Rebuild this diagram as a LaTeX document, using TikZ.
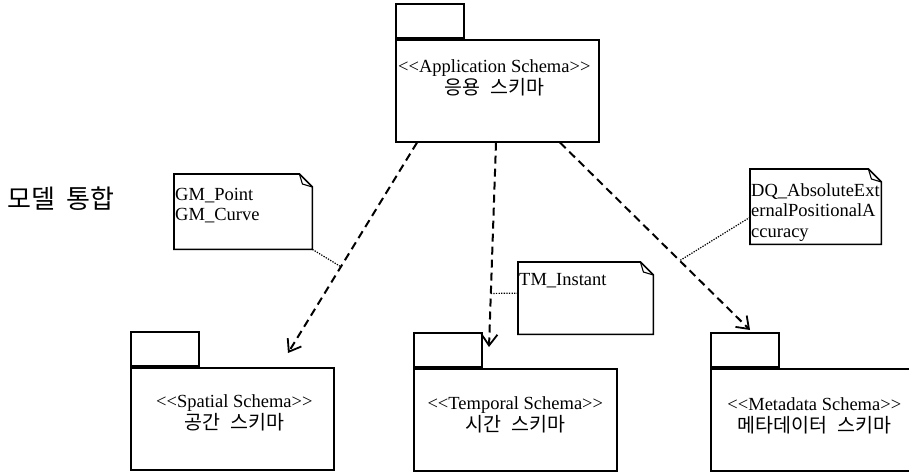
\documentclass[tikz,border=0pt]{standalone}
\usepackage{fontspec}
\setmainfont{Liberation Serif}
\newfontfamily\krfont{Noto Sans CJK KR}
\usetikzlibrary{arrows.meta,calc}
\newcommand\dognote[1]{%
  \draw[noteline] (#1.north west) -- ([xshift=-13pt]#1.north east) -- ([yshift=-13pt]#1.north east) -- (#1.south east) -- (#1.south west) -- cycle;
  \draw[noteline,line width=1.1pt] ([xshift=-13pt]#1.north east) -- ([xshift=-10pt,yshift=-10pt]#1.north east) -- ([yshift=-13pt]#1.north east);}
\newcommand\krsp{\hspace{0.5em}}
\begin{document}
\begin{tikzpicture}[x=1pt,y=-1pt,
  pkgmain/.style={draw,line width=1.6pt,minimum width=203pt,minimum height=102pt,inner sep=0pt,anchor=north west},
  pkgtab/.style={draw,line width=1.6pt,minimum width=68pt,minimum height=34pt,inner sep=0pt,anchor=south west},
  pkgtext/.style={align=center,inner sep=0pt,font=\fontsize{18.5}{22}\selectfont},
  notebox/.style={draw=none,inner sep=0pt,anchor=north west},
  noteline/.style={line width=1.6pt,line join=miter},
  notetext/.style={align=left,inner sep=0pt,anchor=north west,font=\fontsize{18.5}{20.5}\selectfont},
  dep/.style={line width=2pt,dash pattern=on 8pt off 5pt,-{Straight Barb[length=11pt,width=16pt,line width=1.8pt]}},
  anchorline/.style={line width=1.2pt,dash pattern=on 1.3pt off 1.3pt}
]
\useasboundingbox (0,0) rectangle (909,474);

% packages
\node[pkgmain] (app) at (395,39) {};
\node[pkgtab] (apptab) at (app.north west) {};
\node[pkgmain] (spa) at (130,367) {};
\node[pkgtab] (spatab) at (spa.north west) {};
\node[pkgmain] (tem) at (413,368) {};
\node[pkgtab] (temtab) at (tem.north west) {};
\node[pkgmain] (met) at (710,368) {};
\node[pkgtab] (mettab) at (met.north west) {};

\node[pkgtext] (apptxt) at ($(app.north)+(-3,39)$) {{<}{<}Application Schema{>}{>}\\{\krfont\fontsize{19.5}{22}\selectfont 응용\krsp 스키마}};
\node[pkgtext] (spatxt) at ($(spa.north)+(2,46)$) {{<}{<}Spatial Schema{>}{>}\\{\krfont\fontsize{19.5}{22}\selectfont 공간\krsp 스키마}};
\node[pkgtext] (temtxt) at ($(tem.north)+(0,47)$) {{<}{<}Temporal Schema{>}{>}\\{\krfont\fontsize{19.5}{22}\selectfont 시간\krsp 스키마}};
\node[pkgtext] (mettxt) at ($(met.north)+(2,48)$) {{<}{<}Metadata Schema{>}{>}\\{\krfont\fontsize{19.5}{22}\selectfont 메타데이터\krsp 스키마}};

% left label
\node[anchor=west,inner sep=0pt,font=\krfont\fontsize{26}{30}\selectfont] (label) at (7,199) {모델\hspace{0.45em}통합};

% notes
\node[notebox,minimum width=138pt,minimum height=75pt] (gm) at (174,174) {};
\dognote{gm}
\node[notetext] (gmtxt) at (175,188) {GM\_Point\\GM\_Curve};

\node[notebox,minimum width=131pt,minimum height=75pt] (dq) at (750,169) {};
\dognote{dq}
\node[notetext] (dqtxt) at (751,183) {DQ\_AbsoluteExt\\ernalPositionalA\\ccuracy};

\node[notebox,minimum width=135pt,minimum height=72pt] (tm) at (518,262) {};
\dognote{tm}
\node[notetext] (tmtxt) at (519,273) {TM\_Instant};

% dependency arrows
\coordinate (s1) at ($(app.south west)+(22,0)$);
\coordinate (e1) at (288,353);
\coordinate (s2) at ($(app.south west)+(101,0)$);
\coordinate (e2) at (489,347);
\coordinate (s3) at ($(app.south west)+(165,0)$);
\coordinate (e3) at (750,330);
\draw[dep] (s1) -- (e1);
\draw[dep] (s2) -- (e2);
\draw[dep] (s3) -- (e3);

% note anchors
\coordinate (p1) at ($(s1)!0.59!(e1)$);
\coordinate (p2) at ($(s2)!0.738!(e2)$);
\coordinate (p3) at ($(s3)!0.63!(e3)$);
\draw[anchorline] (gm.south east) -- (p1);
\draw[anchorline] ($(tm.north west)!0.43!(tm.south west)$) -- (p2);
\draw[anchorline] ($(dq.north west)!0.64!(dq.south west)$) -- (p3);
\end{tikzpicture}
\end{document}
